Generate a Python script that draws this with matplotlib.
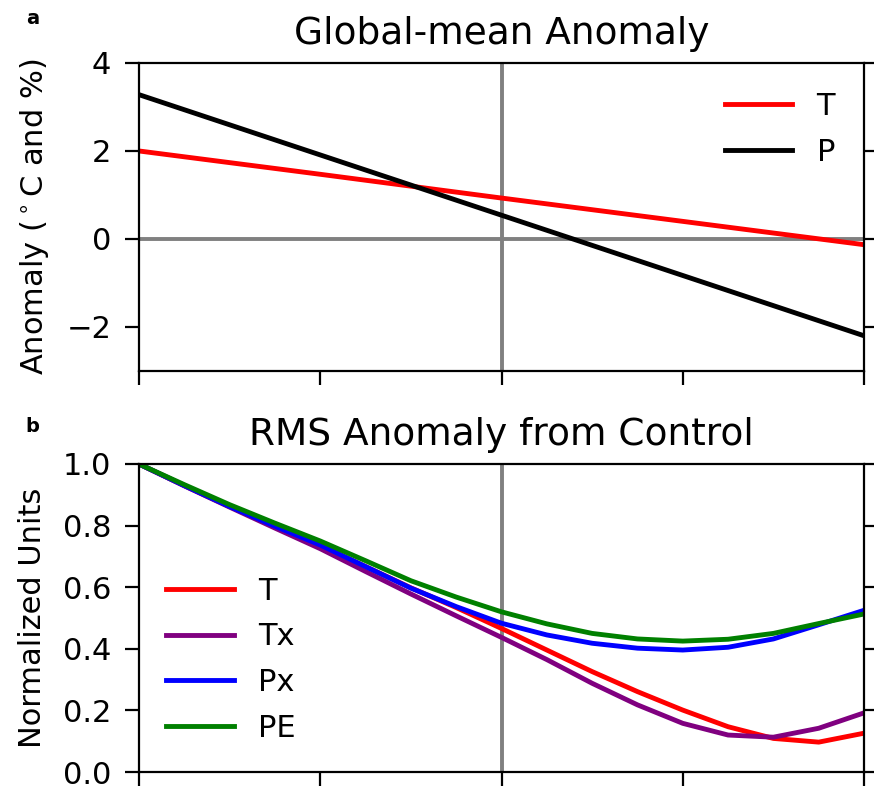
import matplotlib
matplotlib.use("Agg")
import matplotlib.pyplot as plt

# ---- data ----
x_top = [0, 1, 2, 3, 4]
T_top = [2.0, 1.47, 0.93, 0.40, -0.13]
P_top = [3.28, 1.91, 0.54, -0.83, -2.2]

x_bot = [0, 0.25, 0.5, 0.75, 1, 1.25, 1.5, 1.75, 2, 2.25, 2.5, 2.75, 3, 3.25, 3.5, 3.75, 4]
T_bot = [1.0, 0.93, 0.862, 0.797, 0.735, 0.667, 0.598, 0.534, 0.466, 0.396, 0.326, 0.261, 0.201, 0.147, 0.109, 0.097, 0.126]
Tx_bot = [1.0, 0.929, 0.86, 0.792, 0.725, 0.651, 0.578, 0.507, 0.437, 0.365, 0.288, 0.218, 0.158, 0.12, 0.113, 0.142, 0.192]
Px_bot = [1.0, 0.93, 0.862, 0.798, 0.737, 0.667, 0.597, 0.537, 0.483, 0.445, 0.418, 0.402, 0.396, 0.405, 0.432, 0.478, 0.525]
PE_bot = [1.0, 0.933, 0.868, 0.808, 0.750, 0.686, 0.621, 0.568, 0.52, 0.481, 0.45, 0.432, 0.425, 0.431, 0.45, 0.482, 0.513]

xticks = [0, 1, 2, 3, 4]

fig = plt.figure(figsize=(8.74, 7.92), dpi=100)
ax1 = fig.add_axes([0.159, 0.5316, 0.8296, 0.3889])
ax2 = fig.add_axes([0.159, 0.02525, 0.8296, 0.3889])

LW = 3.5
TICK_FS = 22

def style(ax):
    for s in ax.spines.values():
        s.set_linewidth(1.6)
    ax.set_xlim(0, 4)
    ax.set_xticks(xticks)
    ax.tick_params(axis='x', bottom=True, top=False, labelbottom=False,
                   direction='out', length=10, width=1.6)
    ax.tick_params(axis='y', left=True, right=True, direction='out',
                   length=10, width=1.6, labelsize=TICK_FS, pad=10)

# top panel
ax1.axhline(0, color='grey', lw=2.8, zorder=1)
ax1.axvline(2, color='grey', lw=2.8, zorder=1)
ax1.plot(x_top, T_top, color='red', lw=LW, label='T')
ax1.plot(x_top, P_top, color='black', lw=LW, label='P')
style(ax1)
ax1.set_ylim(-3, 4)
ax1.set_yticks([-2, 0, 2, 4])
ax1.set_ylabel('Anomaly ($^\\circ$C and %)', fontsize=22, labelpad=11)
ax1.set_title('Global-mean Anomaly', fontsize=27, pad=14)
ax1.legend(loc='upper right', frameon=False, fontsize=22, handlelength=2.2,
           labelspacing=0.55, handletextpad=0.8, borderaxespad=0.55)

# bottom panel
ax2.axvline(2, color='grey', lw=2.8, zorder=1)
ax2.plot(x_bot, T_bot, color='red', lw=LW, label='T')
ax2.plot(x_bot, Tx_bot, color='purple', lw=LW, label='Tx')
ax2.plot(x_bot, Px_bot, color='blue', lw=LW, label='Px')
ax2.plot(x_bot, PE_bot, color='green', lw=LW, label='PE')
style(ax2)
ax2.set_ylim(0, 1.0)
ax2.set_yticks([0.0, 0.2, 0.4, 0.6, 0.8, 1.0])
ax2.set_ylabel('Normalized Units', fontsize=22, labelpad=11)
ax2.set_title('RMS Anomaly from Control', fontsize=27, pad=14)
ax2.legend(loc='lower left', frameon=False, fontsize=22, handlelength=2.2,
           labelspacing=0.55, handletextpad=0.8, bbox_to_anchor=(0.0, 0.005))

fig.text(0.037, 0.977, 'a', fontsize=14, fontweight='bold', ha='center', va='center')
fig.text(0.037, 0.461, 'b', fontsize=14, fontweight='bold', ha='center', va='center')

fig.savefig('out.png', dpi=100)
